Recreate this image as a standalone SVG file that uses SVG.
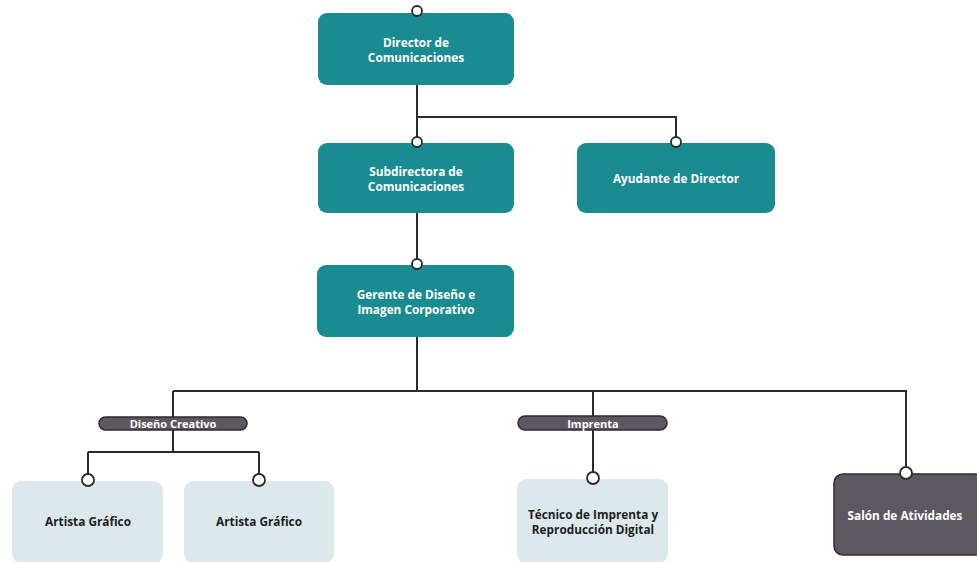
<svg xmlns="http://www.w3.org/2000/svg" width="977" height="562" viewBox="0 0 977 562">
<style>
.teal{fill:#1a8b91}
.light{fill:#dde8ed}
.dark{fill:#5c5761;stroke:#2e2b31;stroke-width:1.5}
.pill{fill:#5c5761;stroke:#2e2b31;stroke-width:1.5}
.wt{font-family:"Open Sans","Liberation Sans",sans-serif;font-weight:700;font-size:11.8px;fill:#ffffff;text-anchor:middle}
.bt{font-family:"Open Sans","Liberation Sans",sans-serif;font-weight:700;font-size:11.8px;fill:#1e1e22;text-anchor:middle}
.line{fill:none;stroke:#2b2b2e;stroke-width:2}
.dot{fill:#ffffff;stroke:#2b2b2e;stroke-width:1.8}
</style>
<rect width="977" height="562" fill="#ffffff"/>
<g id="connectors">
<path class="line" d="M417 85V143M417 117H676V143M417 213V265M417 337V391M173 391H906V474M173 391V452M88 452H259M88 452V480M259 452V480M593 391V478"/>
</g>
<g id="director">
<rect class="teal" x="318" y="13" width="196" height="72" rx="9"/>
<text class="wt" x="416" y="47">Director de</text>
<text class="wt" x="416" y="62">Comunicaciones</text>
<circle class="dot" cx="417" cy="11" r="5"/>
</g>
<g id="subdirectora">
<rect class="teal" x="318" y="143" width="196" height="70" rx="9"/>
<text class="wt" x="416" y="176">Subdirectora de</text>
<text class="wt" x="416" y="191">Comunicaciones</text>
<circle class="dot" cx="417" cy="142" r="5"/>
</g>
<g id="ayudante">
<rect class="teal" x="577" y="143" width="198" height="70" rx="9"/>
<text class="wt" x="676" y="183">Ayudante de Director</text>
<circle class="dot" cx="676" cy="142" r="5"/>
</g>
<g id="gerente">
<rect class="teal" x="317" y="265" width="197" height="72" rx="9"/>
<text class="wt" x="416" y="299">Gerente de Diseño e</text>
<text class="wt" x="416" y="314">Imagen Corporativo</text>
<circle class="dot" cx="417" cy="264" r="5"/>
</g>
<g id="diseno-creativo">
<rect class="pill" x="99" y="417" width="148" height="13" rx="6.5"/>
<text class="wt" x="173" y="427.5" style="font-size:11px">Diseño Creativo</text>
</g>
<g id="imprenta">
<rect class="pill" x="518" y="416" width="149" height="14" rx="7"/>
<text class="wt" x="593" y="427.5" style="font-size:11px">Imprenta</text>
</g>
<g id="artista1">
<rect class="light" x="12" y="481" width="151" height="82" rx="9"/>
<text class="bt" x="88" y="526">Artista Gráfico</text>
<circle class="dot" cx="88" cy="480" r="6"/>
</g>
<g id="artista2">
<rect class="light" x="184" y="481" width="150" height="82" rx="9"/>
<text class="bt" x="259" y="526">Artista Gráfico</text>
<circle class="dot" cx="259" cy="480" r="6"/>
</g>
<g id="tecnico">
<rect class="light" x="517" y="479" width="151" height="84" rx="9"/>
<text class="bt" x="593" y="519">Técnico de Imprenta y</text>
<text class="bt" x="593" y="534">Reproducción Digital</text>
<circle class="dot" cx="593" cy="478" r="6"/>
</g>
<g id="salon">
<rect class="dark" x="834" y="474" width="150" height="81" rx="9"/>
<text class="wt" x="905" y="520">Salón de Atividades</text>
<circle class="dot" cx="906" cy="473" r="6"/>
</g>
</svg>
